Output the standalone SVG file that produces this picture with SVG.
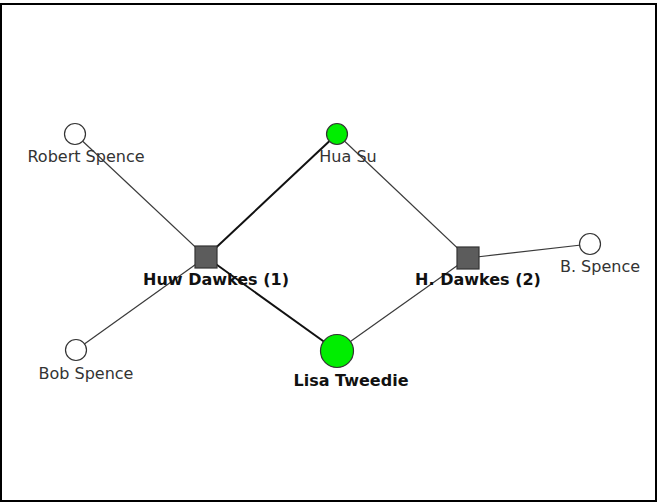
<svg xmlns="http://www.w3.org/2000/svg" width="660" height="503" viewBox="0 0 660 503">
<style>
.thin{stroke:#3a3a3a;stroke-width:1.2;fill:none}
.thick{stroke:#111;stroke-width:2;fill:none}
.person{stroke:#333;stroke-width:1.2}
.white{fill:#fff}
.green{fill:#00ee00}
.pub{fill:#5c5c5c;stroke:#333;stroke-width:1.2}
.lbl{font-family:"DejaVu Sans",sans-serif;font-size:16px;fill:#333;text-anchor:middle}
.bold{font-family:"DejaVu Sans",sans-serif;font-size:16px;font-weight:bold;fill:#111;text-anchor:middle}
</style>
<rect x="1" y="4" width="655" height="497" fill="#fff" stroke="#000" stroke-width="2"/>
<g id="connectors">
<line class="thin" x1="75" y1="134" x2="206" y2="257"/>
<line class="thin" x1="76" y1="350" x2="206" y2="257"/>
<line class="thick" x1="337" y1="134" x2="206" y2="257"/>
<line class="thick" x1="337" y1="351" x2="206" y2="257"/>
<line class="thin" x1="337" y1="134" x2="468" y2="258"/>
<line class="thin" x1="337" y1="351" x2="468" y2="258"/>
<line class="thin" x1="468" y1="258" x2="590" y2="244"/>
</g>
<g id="robert-spence">
<circle class="person white" cx="75" cy="134" r="10.5"/>
<text class="lbl" x="86" y="162">Robert Spence</text>
</g>
<g id="hua-su">
<circle class="person green" cx="337" cy="134" r="10.5"/>
<text class="lbl" x="348" y="162">Hua Su</text>
</g>
<g id="huw-dawkes-1">
<rect class="pub" x="195" y="246" width="22" height="22"/>
<text class="bold" x="216" y="285">Huw Dawkes (1)</text>
</g>
<g id="h-dawkes-2">
<rect class="pub" x="457" y="247" width="22" height="22"/>
<text class="bold" x="478" y="285">H. Dawkes (2)</text>
</g>
<g id="b-spence">
<circle class="person white" cx="590" cy="244" r="10.5"/>
<text class="lbl" x="600" y="272">B. Spence</text>
</g>
<g id="bob-spence">
<circle class="person white" cx="76" cy="350" r="10.5"/>
<text class="lbl" x="86" y="379">Bob Spence</text>
</g>
<g id="lisa-tweedie">
<circle class="person green" cx="337" cy="351" r="16.5"/>
<text class="bold" x="351" y="386">Lisa Tweedie</text>
</g>
</svg>
